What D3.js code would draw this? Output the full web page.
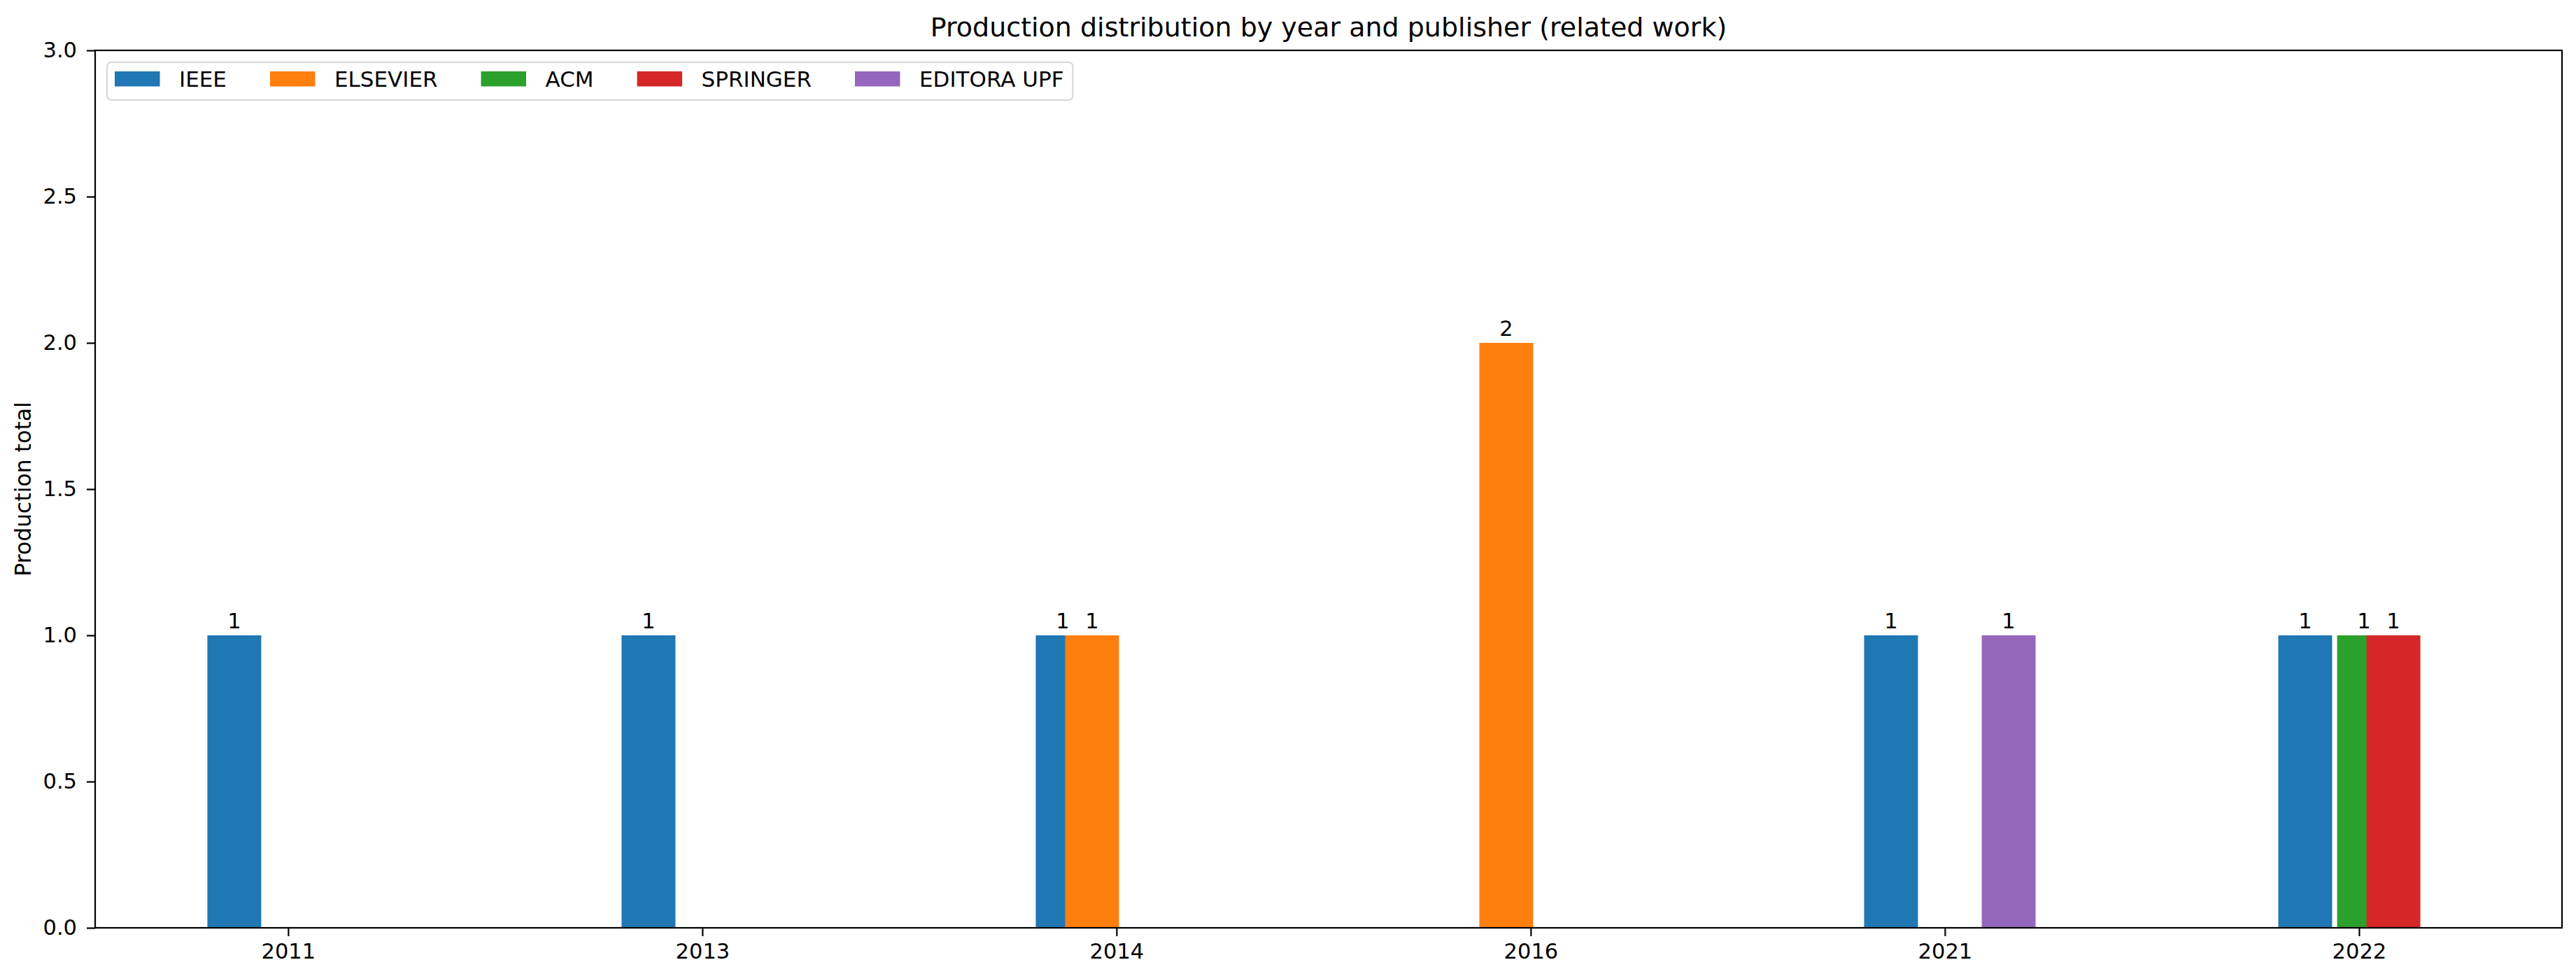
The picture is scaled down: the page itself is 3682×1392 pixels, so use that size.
<!DOCTYPE html>
<html>
<head>
<meta charset="utf-8">
<script src="https://cdn.jsdelivr.net/npm/d3@7"></script>
<style>
  html, body { margin: 0; padding: 0; background: #ffffff; }
  svg { display: block; }
  text { font-family: "DejaVu Sans", sans-serif; fill: #000; }
</style>
</head>
<body>
<svg id="chart" width="3682" height="1392"></svg>
<script>
// ---- data ----
const years = ["2011", "2013", "2014", "2016", "2021", "2022"];
const publishers = ["IEEE", "ELSEVIER", "ACM", "SPRINGER", "EDITORA UPF"];
const ieee     = [1, 1, 1, 0, 1, 1];
const elsevier = [0, 0, 1, 2, 0, 0];
const acm      = [0, 0, 0, 0, 0, 1];
const springer = [0, 0, 0, 0, 0, 1];
const editora  = [0, 0, 0, 0, 1, 0];
const yTicks = [0, 0.5, 1, 1.5, 2, 2.5, 3];
const titleText = "Production distribution by year and publisher (related work)";
const yLabelText = "Production total";

const seriesValues = [ieee, elsevier, acm, springer, editora];
const colors = ["#1f77b4", "#ff7f0e", "#2ca02c", "#d62728", "#9467bd"];

// ---- layout ----
const plot = { left: 136, right: 3662, top: 72, bottom: 1326 };
const barWidth = 0.13;      // in category-index units
const firstOffset = -0.195; // left edge of first series relative to tick
const step = 0.071;

const svg = d3.select("#chart");

const x = d3.scaleLinear().domain([-0.466, 5.49]).range([plot.left, plot.right]);
const y = d3.scaleLinear().domain([0, 3]).range([plot.bottom, plot.top]);

// bars
const barData = [];
seriesValues.forEach((vals, s) => {
  vals.forEach((v, i) => barData.push({ s, i, v }));
});
const shown = barData.filter(d => d.v > 0);

svg.append("g").selectAll("rect").data(shown).join("rect")
  .attr("x", d => x(d.i + firstOffset + d.s * step))
  .attr("width", d => x(barWidth) - x(0))
  .attr("y", d => y(d.v))
  .attr("height", d => y(0) - y(d.v))
  .attr("fill", d => colors[d.s]);

// bar labels
svg.append("g").selectAll("text").data(shown).join("text")
  .attr("x", d => x(d.i + firstOffset + d.s * step + barWidth / 2))
  .attr("y", d => y(d.v) - 10)
  .attr("text-anchor", "middle")
  .style("font-size", "30.5px")
  .text(d => d.v);

// axes
const fontSize = 30.5;
const xAxis = d3.axisBottom(x).tickValues(d3.range(years.length))
  .tickFormat(i => years[i]).tickSize(12).tickPadding(10);
const gx = svg.append("g").attr("transform", `translate(0,${plot.bottom})`).call(xAxis);
const yAxis = d3.axisLeft(y).tickValues(yTicks).tickFormat(d3.format(".1f"))
  .tickSize(12).tickPadding(14);
const gy = svg.append("g").attr("transform", `translate(${plot.left},0)`).call(yAxis);

[gx, gy].forEach(g => {
  g.select(".domain").remove();
  g.selectAll(".tick line").attr("stroke", "#000").attr("stroke-width", 2.2);
  g.selectAll(".tick text").style("font-size", fontSize + "px")
    .style("font-family", '"DejaVu Sans", sans-serif').attr("fill", "#000");
});

// frame (spines)
svg.append("rect")
  .attr("x", plot.left).attr("y", plot.top)
  .attr("width", plot.right - plot.left).attr("height", plot.bottom - plot.top)
  .attr("fill", "none").attr("stroke", "#000").attr("stroke-width", 2.2);

// title
svg.append("text")
  .attr("x", (plot.left + plot.right) / 2).attr("y", 52)
  .attr("text-anchor", "middle")
  .style("font-size", "38px")
  .text(titleText);

// y label
svg.append("text")
  .attr("transform", `translate(44,${(plot.top + plot.bottom) / 2}) rotate(-90)`)
  .attr("text-anchor", "middle")
  .style("font-size", "31.5px")
  .text(yLabelText);

// legend
const legFont = 31;
const handleLen = 64.5, handleH = 21.5, textPad = 27.5, colSpace = 62;
const legX = 153, legY = 89, legH = 54;
const legend = svg.append("g");
const frame = legend.append("rect")
  .attr("x", legX).attr("y", legY).attr("height", legH)
  .attr("rx", 6).attr("ry", 6)
  .attr("fill", "#fff").attr("fill-opacity", 0.8)
  .attr("stroke", "#d6d6d6").attr("stroke-width", 2);
let cx = legX + 11;
publishers.forEach((p, s) => {
  legend.append("rect")
    .attr("x", cx).attr("y", legY + 13)
    .attr("width", handleLen).attr("height", handleH)
    .attr("fill", colors[s]);
  const t = legend.append("text")
    .attr("x", cx + handleLen + textPad).attr("y", legY + 35)
    .style("font-size", legFont + "px")
    .text(p);
  const w = t.node().getComputedTextLength();
  cx = cx + handleLen + textPad + w + (s < publishers.length - 1 ? colSpace : 0);
});
frame.attr("width", cx + 13 - legX);
</script>
</body>
</html>
